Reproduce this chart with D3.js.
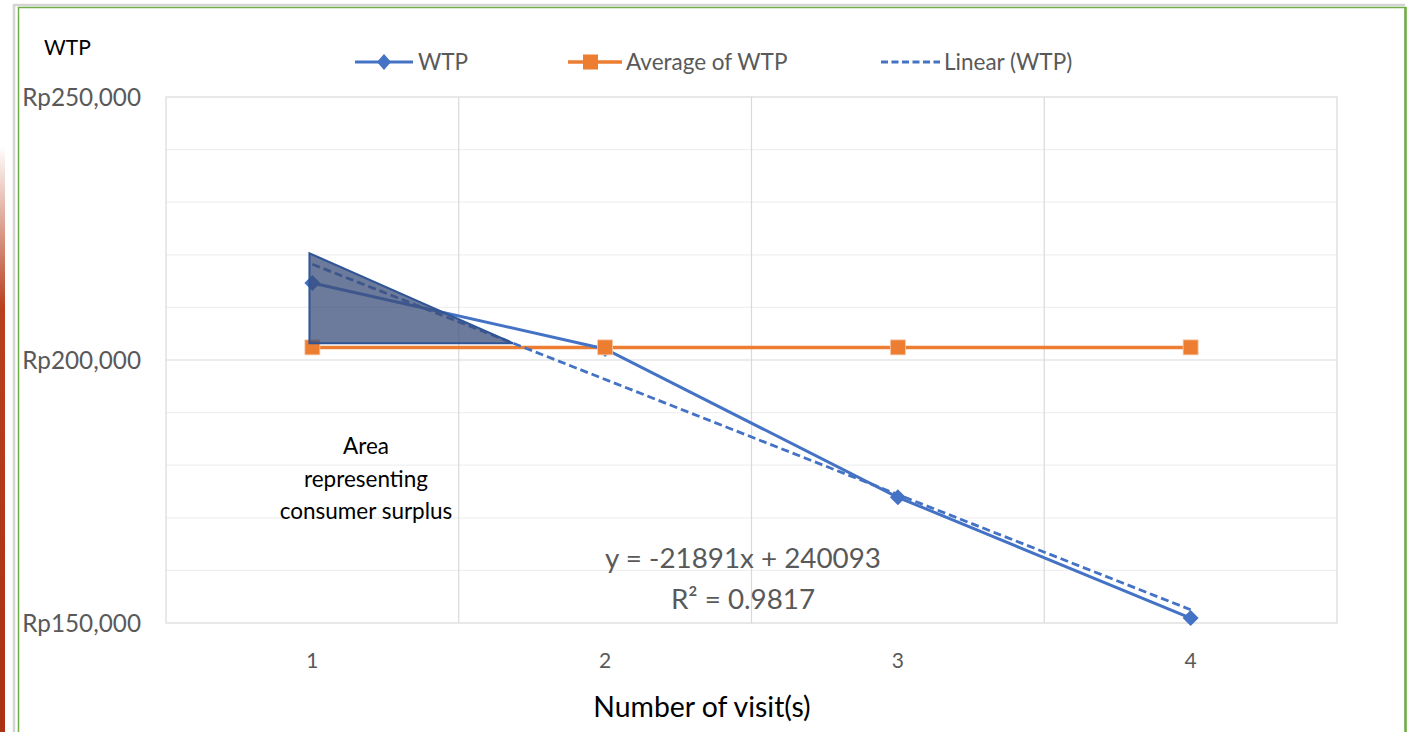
<!DOCTYPE html>
<html><head><meta charset="utf-8">
<script src="https://cdn.jsdelivr.net/npm/d3@7/dist/d3.min.js"></script>
<style>body{margin:0;background:#fff;}svg{display:block;font-family:Lato,"Open Sans",sans-serif;}</style>
</head><body><svg id="c" width="1414" height="732"></svg>
<script>
const visits = [1, 2, 3, 4];
const wtp = [214640, 202100, 173900, 150930];
const averageWtp = [202400, 202400, 202400, 202400];
const trendSlope = -21891, trendIntercept = 240093, rSquared = 0.9817;
const yTicks = [150000, 200000, 250000];
const yMinorTicks = [160000, 170000, 180000, 190000, 210000, 220000, 230000, 240000];
const surplusArea = [[0.99, 220300], [0.99, 203200], [1.685, 203200]];
const surplusLabel = ["Area", "representing", "consumer surplus"];

const svg = d3.select("#c");
const L = 166, R = 1337, T = 97, B = 623;
const x = d3.scaleLinear().domain([0.5, 4.5]).range([L, R]);
const y = d3.scaleLinear().domain([150000, 250000]).range([B, T]);

// left red bar
const defs = svg.append("defs");
const g1 = defs.append("linearGradient").attr("id","rb").attr("x1",0).attr("y1",0).attr("x2",0).attr("y2",1);
g1.append("stop").attr("offset","0").attr("stop-color","#fff");
g1.append("stop").attr("offset","0.2").attr("stop-color","#fff");
g1.append("stop").attr("offset","0.42").attr("stop-color","#b8401f");
g1.append("stop").attr("offset","1").attr("stop-color","#a83213");
svg.append("rect").attr("x",0).attr("y",0).attr("width",5).attr("height",732).attr("fill","url(#rb)");

// frame
svg.append("path").attr("d","M14,732 V5 H1405").attr("fill","none").attr("stroke","#d4d4d4").attr("stroke-width",2.5);
svg.append("path").attr("d","M18.5,732 V7.5 H1405.5 V732").attr("fill","none").attr("stroke","#70ad47").attr("stroke-width",1.5);
svg.append("line").attr("x1",1405.5).attr("x2",1405.5).attr("y1",7).attr("y2",732).attr("stroke","#70ad47").attr("stroke-width",2.5);

// gridlines
svg.append("g").selectAll("line").data(yMinorTicks).join("line")
  .attr("x1",L).attr("x2",R).attr("y1",d=>y(d)).attr("y2",d=>y(d))
  .attr("stroke","#f0f0f0").attr("stroke-width",1.2);
svg.append("g").selectAll("line").data([200000]).join("line")
  .attr("x1",L).attr("x2",R).attr("y1",d=>y(d)).attr("y2",d=>y(d))
  .attr("stroke","#d9d9d9").attr("stroke-width",1.2);
svg.append("g").selectAll("line").data([1.5,2.5,3.5]).join("line")
  .attr("x1",d=>x(d)).attr("x2",d=>x(d)).attr("y1",T).attr("y2",B)
  .attr("stroke","#d9d9d9").attr("stroke-width",1.2);
svg.append("rect").attr("x",L).attr("y",T).attr("width",R-L).attr("height",B-T)
  .attr("fill","none").attr("stroke","#d9d9d9").attr("stroke-width",1.2);

// y axis labels
svg.append("g").selectAll("text").data(yTicks).join("text")
  .attr("x",141).attr("y",d=>y(d)).attr("dy","0.36em").attr("text-anchor","end")
  .attr("fill","#595959").attr("font-size",24.3)
  .text(d=>"Rp"+d3.format(",")(d));
// x axis labels
svg.append("g").selectAll("text").data(visits).join("text")
  .attr("x",d=>x(d)).attr("y",660).attr("dy","0.36em").attr("text-anchor","middle")
  .attr("fill","#595959").attr("font-size",21).text(d=>d);
svg.append("text").attr("x",702).attr("y",707).attr("dy","0.36em").attr("text-anchor","middle")
  .attr("fill","#000").attr("font-size",28.4).text("Number of visit(s)");
svg.append("text").attr("x",44).attr("y",47).attr("dy","0.36em")
  .attr("fill","#000").attr("font-size",21).text("WTP");

const blue = "#4472c4", orange = "#ed7d31";
// average line
svg.append("path").attr("fill","none").attr("stroke",orange).attr("stroke-width",3.5)
  .attr("d", d3.line().x(d=>x(d)).y((d,i)=>y(averageWtp[i]))(visits));
// trendline
svg.append("path").attr("fill","none").attr("stroke",blue).attr("stroke-width",2.8).attr("stroke-dasharray","8,4")
  .attr("d", d3.line().x(d=>x(d)).y(d=>y(trendIntercept + trendSlope*d))([visits[0], visits[visits.length-1]]));
// WTP line
svg.append("path").attr("fill","none").attr("stroke",blue).attr("stroke-width",3)
  .attr("d", d3.line().x(d=>x(d)).y((d,i)=>y(wtp[i]))(visits));
// markers
svg.append("g").selectAll("path").data(visits).join("path")
  .attr("transform",(d,i)=>`translate(${x(d)},${y(wtp[i])})`)
  .attr("d","M0,-8L8,0L0,8L-8,0Z").attr("fill",blue);
svg.append("g").selectAll("rect").data(visits).join("rect")
  .attr("x",d=>x(d)-7.5).attr("y",(d,i)=>y(averageWtp[i])-7.5).attr("width",15).attr("height",15)
  .attr("fill",orange).attr("stroke","#f8cbad").attr("stroke-width",0.8);

// surplus area
svg.append("path").attr("d", d3.line().x(d=>x(d[0])).y(d=>y(d[1]))(surplusArea)+"Z")
  .attr("fill","#3b4e7a").attr("fill-opacity",0.75).attr("stroke","#2f5597").attr("stroke-width",2);
svg.append("g").selectAll("text").data(surplusLabel).join("text")
  .attr("x",366).attr("y",(d,i)=>446+i*32.5).attr("dy","0.36em").attr("text-anchor","middle")
  .attr("fill","#000").attr("font-size",22.5).text(d=>d);

// equation
svg.append("text").attr("x",743).attr("y",558).attr("dy","0.36em").attr("text-anchor","middle")
  .attr("fill","#595959").attr("font-size",27.8)
  .text(`y = ${trendSlope}x + ${trendIntercept}`);
svg.append("text").attr("x",743).attr("y",599).attr("dy","0.36em").attr("text-anchor","middle")
  .attr("fill","#595959").attr("font-size",27.8)
  .text(`R² = ${rSquared}`);

// legend
const lg = svg.append("g").attr("font-size",22.5).attr("fill","#595959");
const ly = 62;
lg.append("line").attr("x1",355).attr("x2",413).attr("y1",ly).attr("y2",ly).attr("stroke",blue).attr("stroke-width",3);
lg.append("path").attr("transform",`translate(384,${ly})`).attr("d","M0,-8L7,0L0,8L-7,0Z").attr("fill",blue);
lg.append("text").attr("x",418).attr("y",ly).attr("dy","0.36em").text("WTP");
lg.append("line").attr("x1",568).attr("x2",622).attr("y1",ly).attr("y2",ly).attr("stroke",orange).attr("stroke-width",3.5);
lg.append("rect").attr("x",583).attr("y",ly-7.5).attr("width",15).attr("height",15).attr("fill",orange);
lg.append("text").attr("x",626).attr("y",ly).attr("dy","0.36em").text("Average of WTP");
lg.append("line").attr("x1",881).attr("x2",940).attr("y1",ly).attr("y2",ly).attr("stroke",blue).attr("stroke-width",2.8).attr("stroke-dasharray","7,3.5");
lg.append("text").attr("x",944).attr("y",ly).attr("dy","0.36em").text("Linear (WTP)");
</script></body></html>
